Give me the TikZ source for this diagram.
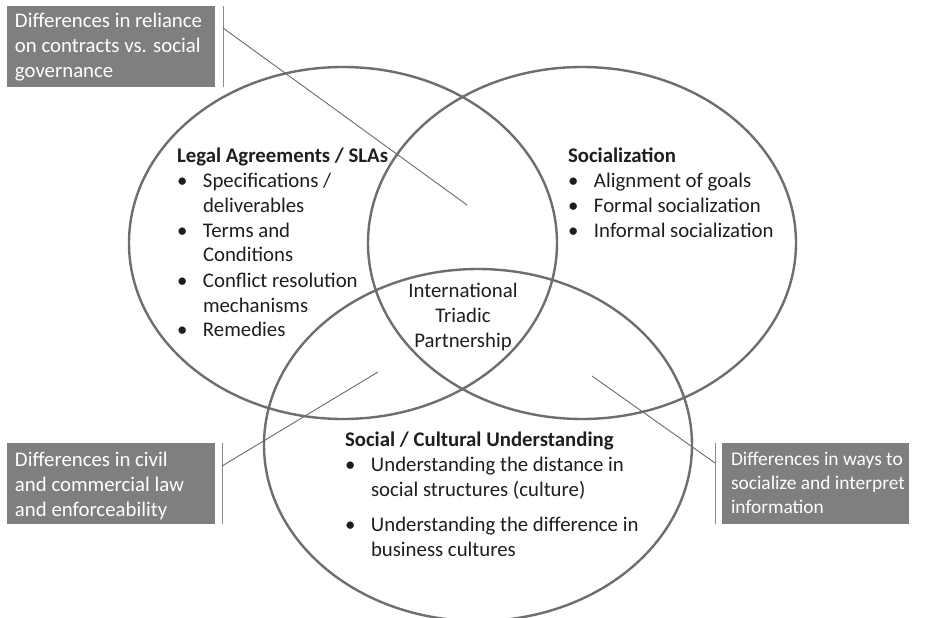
\documentclass[tikz,border=0pt]{standalone}
\usepackage{fontspec}
\setmainfont{Carlito}
\usetikzlibrary{shapes.geometric}
\definecolor{ringgray}{HTML}{6E6E6E}
\definecolor{boxgray}{HTML}{7F7F7F}
\definecolor{leadgray}{HTML}{6A6A6A}
\definecolor{rulegray}{HTML}{8A8A8A}
\definecolor{txtcol}{HTML}{1E1E1E}
\newcommand{\bul}{\makebox[26pt][l]{•}}
\begin{document}
\begin{tikzpicture}[x=1pt,y=-1pt,
  every node/.style={inner sep=0pt, outer sep=0pt},
  ring/.style={ellipse, draw=ringgray, line width=2.4pt, minimum width=428pt, minimum height=352pt},
  txtblock/.style={anchor=base west, text=txtcol, font=\fontsize{20.8}{25}\selectfont},
  boxtxt/.style={anchor=base west, text=white, font=\fontsize{20.8}{25}\selectfont},
  calloutbox/.style={anchor=north west, fill=boxgray, minimum width=208pt, minimum height=81pt},
  calloutrule/.style={draw=rulegray, line width=0.9pt},
  leader/.style={draw=leadgray, line width=0.9pt}]
\useasboundingbox (0,0) rectangle (927,618);
\fill[white] (0,0) rectangle (927,618);

% ellipses
\node[ring] (legalring) at (343,243) {};
\node[ring] (socring) at (582,243) {};
\node[ring] (culring) at (478,445) {};

% ellipse texts
\node[txtblock] (legal) at (177,162) {\begin{tabular}[t]{@{}l@{}}
\textbf{Legal Agreements / SLAs}\\
\bul Specifications /\\
\hspace{26pt}deliverables\\
\bul Terms and\\
\hspace{26pt}Conditions\\
\bul Conflict resolution\\
\hspace{26pt}mechanisms\\
\bul Remedies
\end{tabular}};

\node[txtblock] (soc) at (568,162) {\begin{tabular}[t]{@{}l@{}}
\textbf{Socialization}\\
\bul Alignment of goals\\
\bul Formal socialization\\
\bul Informal socialization
\end{tabular}};

\node[txtblock, anchor=base] (itp) at (463,297) {\begin{tabular}[t]{@{}c@{}}
International\\ Triadic\\ Partnership
\end{tabular}};

\node[txtblock] (cul) at (345,446) {\begin{tabular}[t]{@{}l@{}}
\textbf{Social / Cultural Understanding}\\
\bul Understanding the distance in\\
\hspace{26pt}social structures (culture)\\[10pt]
\bul Understanding the difference in\\
\hspace{26pt}business cultures
\end{tabular}};

% callout boxes
\node[calloutbox] (boxA) at (7,6) {};
\node[calloutbox] (boxB) at (7,443) {};
\node[calloutbox, minimum width=187pt] (boxC) at (722,443) {};

\node[boxtxt] (boxAtxt) at (15,28) {\begin{tabular}[t]{@{}l@{}}
Differences in reliance\\ on contracts vs. social\\ governance\end{tabular}};
\node[boxtxt] (boxBtxt) at (15,466) {\begin{tabular}[t]{@{}l@{}}
Differences in civil\\ and commercial law\\ and enforceability\end{tabular}};
\node[boxtxt, font=\fontsize{19.4}{24}\selectfont] (boxCtxt) at (731,465) {\begin{tabular}[t]{@{}l@{}}
Differences in ways to\\ socialize and interpret\\ information\end{tabular}};

% rules beside boxes
\coordinate (ruleAtop) at (223,6);   \coordinate (ruleAbot) at (223,87);
\coordinate (ruleBtop) at (222,443); \coordinate (ruleBbot) at (222,524);
\coordinate (ruleCtop) at (715,443); \coordinate (ruleCbot) at (715,524);
\draw[calloutrule] (ruleAtop) -- (ruleAbot);
\draw[calloutrule] (ruleBtop) -- (ruleBbot);
\draw[calloutrule] (ruleCtop) -- (ruleCbot);

% leader lines
\coordinate (leadAstart) at (223,28);  \coordinate (leadAend) at (467,205);
\coordinate (leadBstart) at (222,466); \coordinate (leadBend) at (378,372);
\coordinate (leadCstart) at (715,463); \coordinate (leadCend) at (592,376);
\draw[leader] (leadAstart) -- (leadAend);
\draw[leader] (leadBstart) -- (leadBend);
\draw[leader] (leadCstart) -- (leadCend);
\end{tikzpicture}
\end{document}
